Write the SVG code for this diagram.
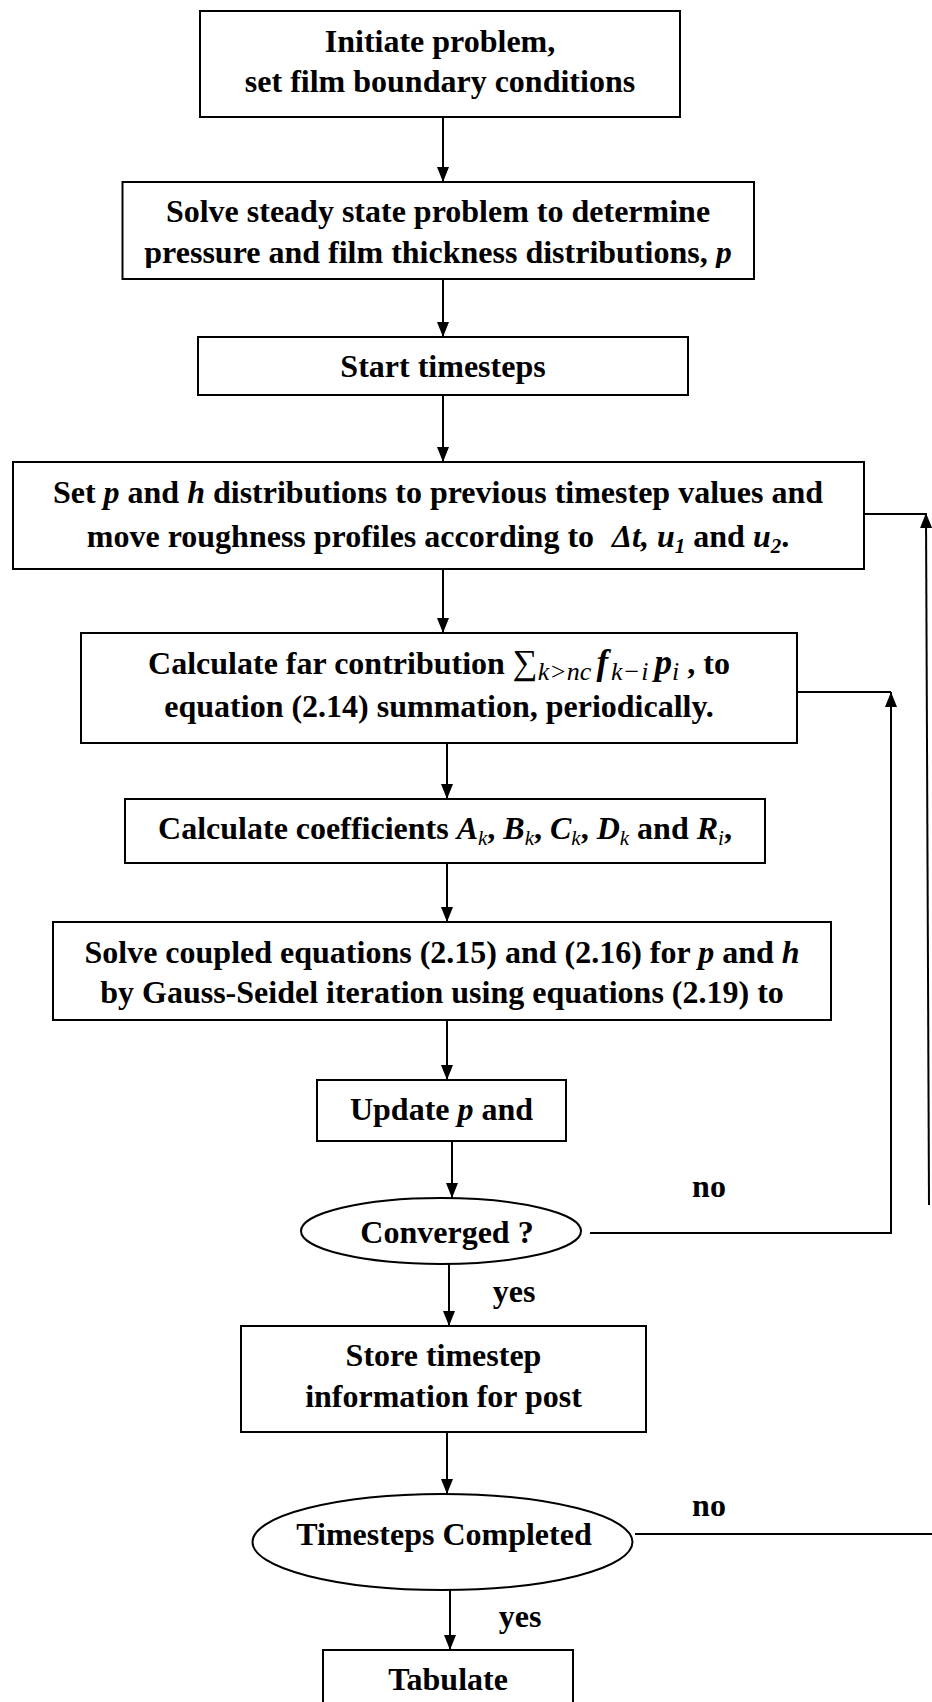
<svg xmlns="http://www.w3.org/2000/svg" width="932" height="1702" viewBox="0 0 932 1702">
<defs>
<marker id="ah" markerUnits="userSpaceOnUse" markerWidth="15" markerHeight="12" refX="15" refY="6" orient="auto"><path d="M0,0 L15,6 L0,12 z" fill="#000"/></marker>
<clipPath id="c2"><rect x="122" y="182" width="632" height="86"/></clipPath>
</defs>
<style>
.box{fill:#fff;stroke:#000;stroke-width:2}
.t{font-family:"Liberation Serif","Times New Roman",serif;font-weight:bold;font-size:32px;fill:#000;text-anchor:middle}
.i{font-style:italic}
.s{font-size:21px}
.ms{font-size:26px}
.mb{font-size:35px}
.m{font-weight:normal}
.ln{fill:none;stroke:#000;stroke-width:2}
</style>
<rect width="932" height="1702" fill="#fff"/>

<g id="connectors">
<line class="ln" x1="443" y1="117" x2="443" y2="182" marker-end="url(#ah)"/>
<line class="ln" x1="443" y1="279" x2="443" y2="337" marker-end="url(#ah)"/>
<line class="ln" x1="443" y1="395" x2="443" y2="462" marker-end="url(#ah)"/>
<line class="ln" x1="443" y1="569" x2="443" y2="633" marker-end="url(#ah)"/>
<line class="ln" x1="447" y1="743" x2="447" y2="799" marker-end="url(#ah)"/>
<line class="ln" x1="447" y1="863" x2="447" y2="922" marker-end="url(#ah)"/>
<line class="ln" x1="447" y1="1020" x2="447" y2="1080" marker-end="url(#ah)"/>
<line class="ln" x1="452" y1="1141" x2="452" y2="1198" marker-end="url(#ah)"/>
<line class="ln" x1="449" y1="1264" x2="449" y2="1326" marker-end="url(#ah)"/>
<line class="ln" x1="447" y1="1432" x2="447" y2="1494" marker-end="url(#ah)"/>
<line class="ln" x1="450" y1="1590" x2="450" y2="1650" marker-end="url(#ah)"/>
<polyline class="ln" points="590,1233 891,1233 891,692" marker-end="url(#ah)"/>
<line class="ln" x1="797" y1="692" x2="891" y2="692"/>
<line class="ln" x1="635" y1="1534" x2="932" y2="1534"/>
<line class="ln" x1="929" y1="1205" x2="926" y2="513" marker-end="url(#ah)"/>
<line class="ln" x1="863" y1="514" x2="926" y2="514"/>
<text class="t" x="709" y="1197">no</text>
<text class="t" x="709" y="1516">no</text>
<text class="t" x="514" y="1302">yes</text>
<text class="t" x="520" y="1627">yes</text>
</g>

<g id="n1">
<rect class="box" x="200" y="11" width="480" height="106"/>
<text class="t" x="440" y="52">Initiate problem,</text>
<text class="t" x="440" y="92">set film boundary conditions</text>
</g>

<g id="n2">
<rect class="box" x="122.5" y="182" width="631.5" height="97"/>
<g clip-path="url(#c2)">
<text class="t" x="438" y="222">Solve steady state problem to determine</text>
<text class="t" x="438" y="263">pressure and film thickness distributions, <tspan class="i">p</tspan></text>
</g>
</g>

<g id="n3">
<rect class="box" x="198" y="337" width="490" height="58"/>
<text class="t" x="443" y="377">Start timesteps</text>
</g>

<g id="n4">
<rect class="box" x="13" y="462" width="851" height="107"/>
<text class="t" x="438" y="503">Set <tspan class="i">p</tspan> and <tspan class="i">h</tspan> distributions to previous timestep values and</text>
<text class="t" x="438" y="547">move roughness profiles according to <tspan class="i" dx="10">Δt, u</tspan><tspan class="i s" dy="6">1</tspan><tspan dy="-6"> and </tspan><tspan class="i">u</tspan><tspan class="i s" dy="6">2</tspan><tspan dy="-6">.</tspan></text>
</g>

<g id="n5">
<rect class="box" x="81" y="633" width="716" height="110"/>
<text class="t" x="439" y="674">Calculate far contribution <tspan class="m mb">∑</tspan><tspan class="m i ms" dy="6">k&gt;nc</tspan><tspan class="i mb" dy="-6" dx="5">f</tspan><tspan class="m i ms" dy="6" dx="3">k</tspan><tspan class="m ms" dx="2">−</tspan><tspan class="m i ms" dx="2">i</tspan><tspan class="i mb" dy="-6" dx="6">p</tspan><tspan class="m i ms" dy="6">i</tspan><tspan dy="-6"> , to</tspan></text>
<text class="t" x="439" y="717">equation (2.14) summation, periodically.</text>
</g>

<g id="n6">
<rect class="box" x="125" y="799" width="640" height="64"/>
<text class="t" x="445" y="839">Calculate coefficients <tspan class="i">A</tspan><tspan class="i s m" dy="6">k</tspan><tspan dy="-6">, </tspan><tspan class="i">B</tspan><tspan class="i s m" dy="6">k</tspan><tspan dy="-6">, </tspan><tspan class="i">C</tspan><tspan class="i s m" dy="6">k</tspan><tspan dy="-6">, </tspan><tspan class="i">D</tspan><tspan class="i s m" dy="6">k</tspan><tspan dy="-6"> and </tspan><tspan class="i">R</tspan><tspan class="i s m" dy="6">i</tspan><tspan dy="-6">,</tspan></text>
</g>

<g id="n7">
<rect class="box" x="53" y="922" width="778" height="98"/>
<text class="t" x="442" y="963">Solve coupled equations (2.15) and (2.16) for <tspan class="i">p</tspan> and <tspan class="i">h</tspan></text>
<text class="t" x="442" y="1003">by Gauss-Seidel iteration using equations (2.19) to</text>
</g>

<g id="n8">
<rect class="box" x="317" y="1080" width="249" height="61"/>
<text class="t" x="441.5" y="1120">Update <tspan class="i">p</tspan> and</text>
</g>

<g id="n9">
<ellipse class="box" cx="441" cy="1231" rx="140" ry="33"/>
<text class="t" x="447" y="1243">Converged ?</text>
</g>

<g id="n10">
<rect class="box" x="241" y="1326" width="405" height="106"/>
<text class="t" x="443.5" y="1366">Store timestep</text>
<text class="t" x="443.5" y="1407">information for post</text>
</g>

<g id="n11">
<ellipse class="box" cx="442.5" cy="1542" rx="190" ry="48"/>
<text class="t" x="444" y="1545">Timesteps Completed</text>
</g>

<g id="n12">
<rect class="box" x="323" y="1650" width="250" height="70"/>
<text class="t" x="448" y="1690">Tabulate</text>
</g>
</svg>
